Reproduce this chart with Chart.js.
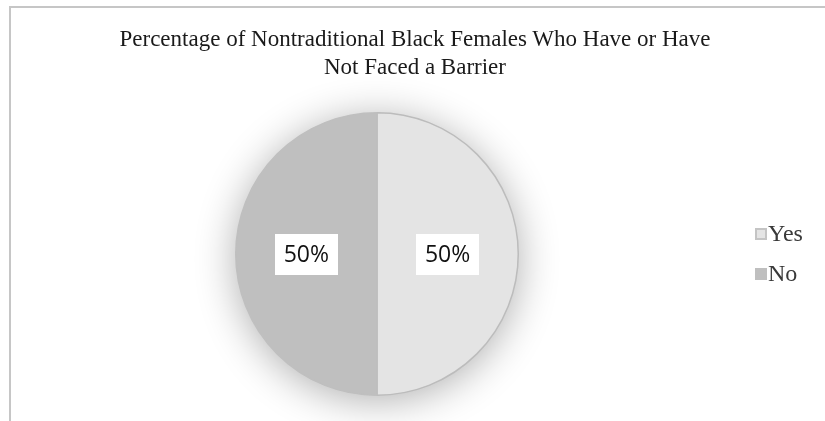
<!DOCTYPE html>
<html>
<head>
<meta charset="utf-8">
<script src="https://cdn.jsdelivr.net/npm/chart.js@4"></script>
<style>
  html, body { margin: 0; padding: 0; background: #ffffff; }
  #wrap { position: relative; width: 825px; height: 421px; overflow: hidden; background: #fff; }
  #frame { position: absolute; left: 9px; top: 6px; width: 900px; height: 500px;
           border-left: 2px solid #c6c6c6; border-top: 2px solid #c6c6c6; box-sizing: border-box; }
  #title { position: absolute; left: 0; top: 25px; width: 830px; text-align: center;
           font-family: "Liberation Serif", "Times New Roman", serif; font-size: 23px;
           line-height: 28px; color: #1a1a1a; white-space: nowrap; }
  #legend { position: absolute; left: 755px; top: 213px; font-family: "Liberation Serif", serif;
            font-size: 24px; color: #3a3a3a; }
  .li { position: relative; height: 40px; line-height: 40px; padding-left: 13px; white-space: nowrap; }
  .sw { position: absolute; left: 0; top: 15px; width: 12px; height: 12px; box-sizing: border-box; }
  canvas { position: absolute; left: 0; top: 0; }
</style>
</head>
<body>
<div id="wrap">
  <div id="frame"></div>
  <canvas id="c" width="825" height="421"></canvas>
  <div id="title">Percentage of Nontraditional Black Females Who Have or Have<br>Not Faced a Barrier</div>
  <div id="legend"></div>
</div>
<script>
const categories = ["Yes", "No"];
const values = [50, 50];
const labelsText = ["50%", "50%"];
const sliceColors = ["#e4e4e4", "#bfbfbf"];
const sliceBorders = ["#bcbcbc", "#bfbfbf"];

// legend
const leg = document.getElementById('legend');
categories.forEach((c, i) => {
  const d = document.createElement('div'); d.className = 'li';
  const s = document.createElement('div'); s.className = 'sw';
  s.style.background = sliceColors[i];
  s.style.border = '2px solid ' + (i === 0 ? '#c4c4c4' : sliceColors[i]);
  const t = document.createElement('span'); t.textContent = c;
  d.appendChild(s); d.appendChild(t); leg.appendChild(d);
});

const shadowPlugin = {
  id: 'pieShadow',
  beforeDatasetsDraw(chart) {
    const arc = chart.getDatasetMeta(0).data[0];
    if (!arc) return;
    const ctx = chart.ctx;
    ctx.save();
    ctx.shadowColor = 'rgba(0,0,0,0.32)';
    ctx.shadowBlur = 40;
    ctx.shadowOffsetY = 5;
    ctx.fillStyle = '#d0d0d0';
    ctx.beginPath();
    ctx.arc(arc.x, arc.y, arc.outerRadius, 0, Math.PI * 2);
    ctx.fill();
    ctx.restore();
  }
};

const labelPlugin = {
  id: 'boxLabels',
  afterDatasetsDraw(chart) {
    const ctx = chart.ctx;
    const meta = chart.getDatasetMeta(0);
    meta.data.forEach((el, i) => {
      const p = el.tooltipPosition();
      const w = 63, h = 41;
      ctx.save();
      ctx.fillStyle = '#ffffff';
      ctx.fillRect(Math.round(p.x - w / 2), Math.round(p.y - h / 2), w, h);
      ctx.fillStyle = '#111111';
      ctx.font = '23px "Open Sans", "Liberation Sans", sans-serif';
      ctx.textAlign = 'center';
      ctx.textBaseline = 'middle';
      ctx.fillText(labelsText[i], p.x, p.y + 1);
      ctx.restore();
    });
  }
};

new Chart(document.getElementById('c'), {
  type: 'pie',
  data: {
    labels: categories,
    datasets: [{
      data: values,
      backgroundColor: sliceColors,
      borderColor: sliceBorders,
      borderWidth: 1.5
    }]
  },
  options: {
    responsive: false,
    animation: false,
    layout: { padding: { left: 235, right: 306, top: 112, bottom: 25 } },
    plugins: {
      legend: { display: false },
      title: { display: false },
      tooltip: { enabled: false }
    }
  },
  plugins: [shadowPlugin, labelPlugin]
});
</script>
</body>
</html>
